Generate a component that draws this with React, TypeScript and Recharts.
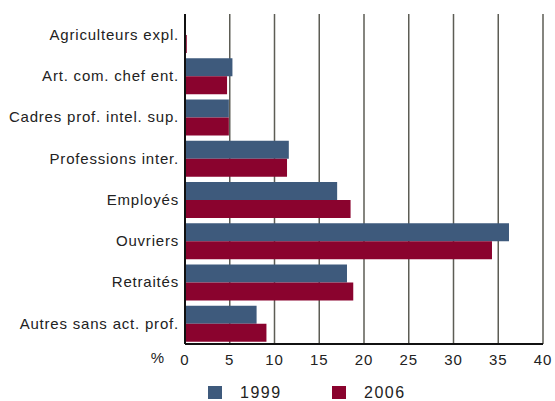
import React from "react";
import {
  BarChart, Bar, XAxis, YAxis, CartesianGrid, Label,
} from "recharts";

// catégories socioprofessionnelles, parts en %
const categories = [
  "Agriculteurs expl.",
  "Art. com. chef ent.",
  "Cadres prof. intel. sup.",
  "Professions inter.",
  "Employés",
  "Ouvriers",
  "Retraités",
  "Autres sans act. prof.",
];
const values1999 = [0.1, 5.3, 4.9, 11.6, 17.0, 36.2, 18.1, 8.0];
const values2006 = [0.2, 4.7, 4.9, 11.4, 18.5, 34.3, 18.8, 9.1];
const xTicks = [0, 5, 10, 15, 20, 25, 30, 35, 40];
const seriesNames = ["1999", "2006"];

const BLUE = "#3e5a7c";
const RED = "#8a032e";
const FONT = "'Liberation Sans', Arial, sans-serif";

const data = categories.map((cat, i) => ({
  cat,
  s1999: values1999[i],
  s2006: values2006[i],
}));

export default function App() {
  return (
    <div style={{ position: "absolute", left: 0, top: 0, width: 555, height: 401, background: "#fff", fontFamily: FONT }}>
      <BarChart
        width={555}
        height={401}
        data={data}
        layout="vertical"
        margin={{ top: 14, right: 12, left: 0, bottom: 27 }}
        barGap={0}
        barSize={18}
      >
        <CartesianGrid horizontal={false} stroke="#5d5d55" strokeWidth={1.5} />
        <XAxis
          type="number"
          domain={[0, 40]}
          ticks={xTicks}
          interval={0}
          height={30}
          tickLine={false}
          tickMargin={4}
          axisLine={{ stroke: "#111", strokeWidth: 2 }}
          tick={{ fontSize: 15, fill: "#222", fontFamily: FONT, letterSpacing: 1 }}
        >
          <Label value="%" position="left" offset={21} fontSize={15} fill="#222" fontFamily={FONT} dy={-1} />
        </XAxis>
        <XAxis
          xAxisId="top"
          orientation="top"
          type="number"
          domain={[0, 40]}
          height={0}
          tick={false}
          tickLine={false}
          axisLine={{ stroke: "#333", strokeWidth: 2 }}
        />
        <YAxis
          type="category"
          dataKey="cat"
          width={185}
          tickLine={false}
          tickMargin={0}
          interval={0}
          axisLine={{ stroke: "#111", strokeWidth: 2 }}
          tick={{ fontSize: 15, fill: "#222", fontFamily: FONT, letterSpacing: 0.8 }}
        />
        <Bar dataKey="s1999" name={seriesNames[0]} fill={BLUE} isAnimationActive={false} />
        <Bar dataKey="s2006" name={seriesNames[1]} fill={RED} isAnimationActive={false} />
      </BarChart>

      <div style={{ position: "absolute", left: 208, top: 386, display: "flex", alignItems: "center" }}>
        {seriesNames.map((n, i) => (
          <div key={n} style={{ display: "flex", alignItems: "center", width: 124 }}>
            <span style={{ display: "inline-block", width: 14, height: 13, background: i === 0 ? BLUE : RED, marginRight: 18 }} />
            <span style={{ fontSize: 16, color: "#222", letterSpacing: 1.5, lineHeight: "13px" }}>{n}</span>
          </div>
        ))}
      </div>
    </div>
  );
}
